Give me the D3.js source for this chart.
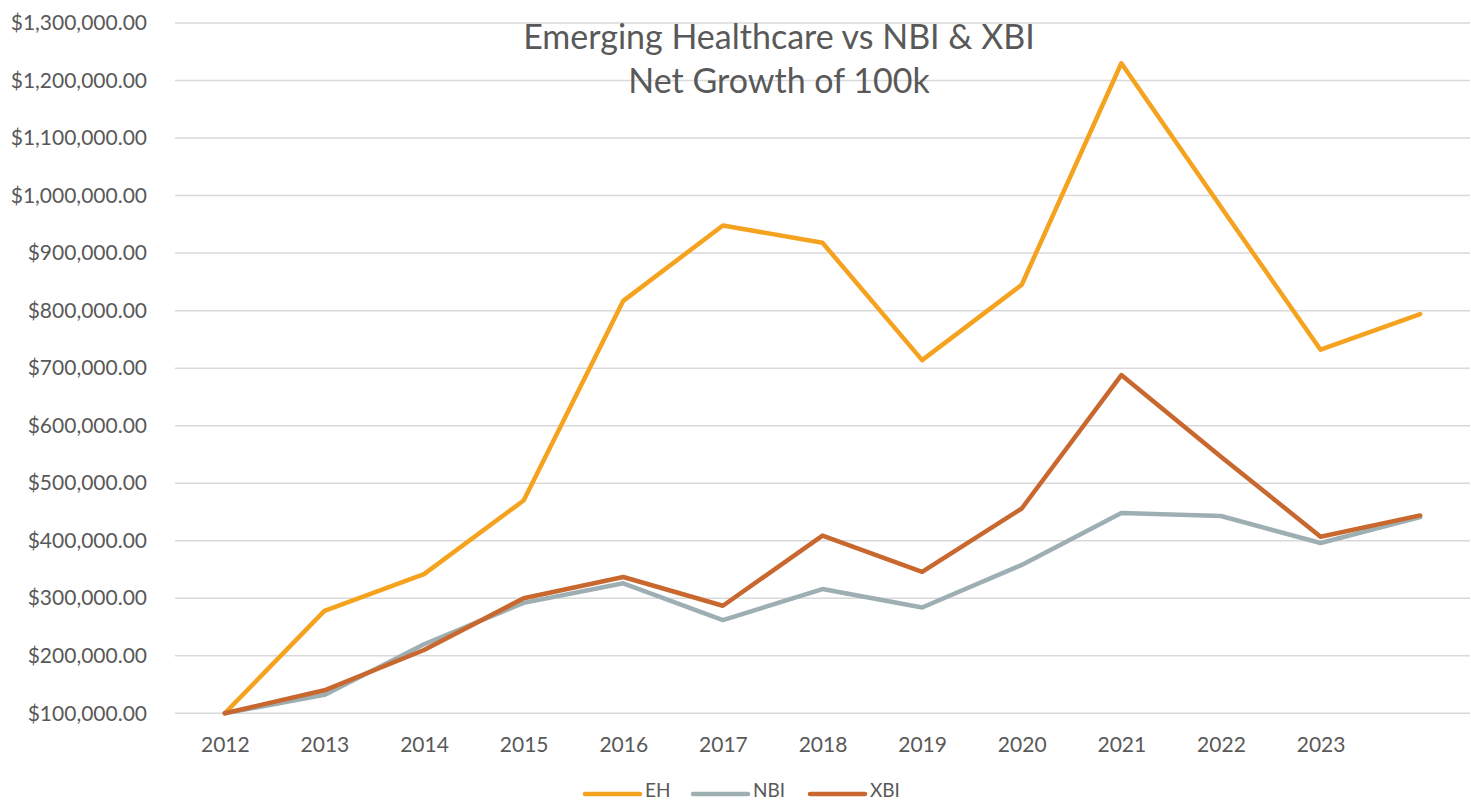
<!DOCTYPE html>
<html>
<head>
<meta charset="utf-8">
<script src="https://cdn.jsdelivr.net/npm/d3@7"></script>
<style>
    body { margin: 0; background: #fff; }
    svg text { font-family: Lato, "Open Sans", sans-serif; fill: #595959; }
</style>
</head>
<body>
<svg id="chart" width="1471" height="802"></svg>
<script>
(function() {
"use strict";

// chart data
const years = ["2012", "2013", "2014", "2015", "2016", "2017", "2018", "2019", "2020", "2021", "2022", "2023", ""];
const ehValues  = [100000, 278000, 342000, 470000, 817000, 948000, 918000, 714000, 845000, 1230000, 980000, 732000, 794000];
const nbiValues = [100000, 132000, 220000, 292000, 326000, 262000, 316000, 284000, 358000, 448000, 443000, 396000, 441000];
const xbiValues = [100000, 140000, 210000, 300000, 337000, 287000, 409000, 346000, 456000, 688000, 546000, 407000, 444000];
const yTicks = [100000, 200000, 300000, 400000, 500000, 600000, 700000, 800000, 900000, 1000000, 1100000, 1200000, 1300000];
const seriesNames = ["EH", "NBI", "XBI"];
const titleLines = ["Emerging Healthcare vs NBI & XBI", "Net Growth of 100k"];

const colors = { EH: "#F5A31F", NBI: "#9EAFB3", XBI: "#C8682F" };

const series = [
    { name: "EH", values: ehValues },
    { name: "NBI", values: nbiValues },
    { name: "XBI", values: xbiValues }
];

const svg = d3.select("svg#chart"),
    plotLeft = 175,
    plotRight = 1470,
    plotTop = 23,
    plotBottom = 713.3;

const x = d3.scalePoint()
    .domain(years)
    .range([plotLeft, plotRight])
    .padding(0.5);

const y = d3.scaleLinear()
    .domain([100000, 1300000])
    .range([plotBottom, plotTop]);

const money = d3.format("$,.2f");

// gridlines
svg.append("g")
    .selectAll("line")
    .data(yTicks)
    .enter().append("line")
        .attr("x1", plotLeft)
        .attr("x2", plotRight)
        .attr("y1", d => y(d))
        .attr("y2", d => y(d))
        .attr("stroke", "#D9D9D9")
        .attr("stroke-width", 1.5);

// y axis labels
const yAxis = svg.append("g")
    .attr("transform", "translate(147,0)")
    .call(d3.axisLeft(y).tickValues(yTicks).tickFormat(money).tickSize(0).tickPadding(0));
yAxis.select(".domain").remove();
yAxis.selectAll("text")
    .attr("font-size", 21)
    .attr("font-family", null)
    .attr("fill", null);

// x axis labels
const xAxis = svg.append("g")
    .attr("transform", "translate(0,737)")
    .call(d3.axisBottom(x).tickSize(0).tickPadding(0));
xAxis.select(".domain").remove();
xAxis.selectAll("text")
    .attr("font-size", 21)
    .attr("font-family", null)
    .attr("fill", null);

// lines
const line = d3.line()
    .x((d, i) => x(years[i]))
    .y(d => y(d));

svg.append("g")
    .selectAll("path")
    .data(series)
    .enter().append("path")
        .attr("d", d => line(d.values))
        .attr("fill", "none")
        .attr("stroke", d => colors[d.name])
        .attr("stroke-width", 4.5)
        .attr("stroke-linejoin", "round")
        .attr("stroke-linecap", "round");

// title
svg.append("text")
    .attr("x", 779)
    .attr("y", 49)
    .attr("text-anchor", "middle")
    .attr("font-size", 34)
    .selectAll("tspan")
    .data(titleLines)
    .enter().append("tspan")
        .attr("x", 779)
        .attr("dy", (d, i) => i === 0 ? 0 : 44)
        .text(d => d);

// legend
const legendX = [585, 693, 810];
const legend = svg.append("g")
    .selectAll("g")
    .data(seriesNames)
    .enter().append("g")
        .attr("transform", (d, i) => "translate(" + legendX[i] + ",794)");
legend.append("line")
    .attr("x1", 0)
    .attr("x2", 55)
    .attr("stroke", d => colors[d])
    .attr("stroke-width", 4.5)
    .attr("stroke-linecap", "round");
legend.append("text")
    .attr("x", 60)
    .attr("y", 3)
    .attr("font-size", 19)
    .text(d => d);
})();
</script>
</body>
</html>
